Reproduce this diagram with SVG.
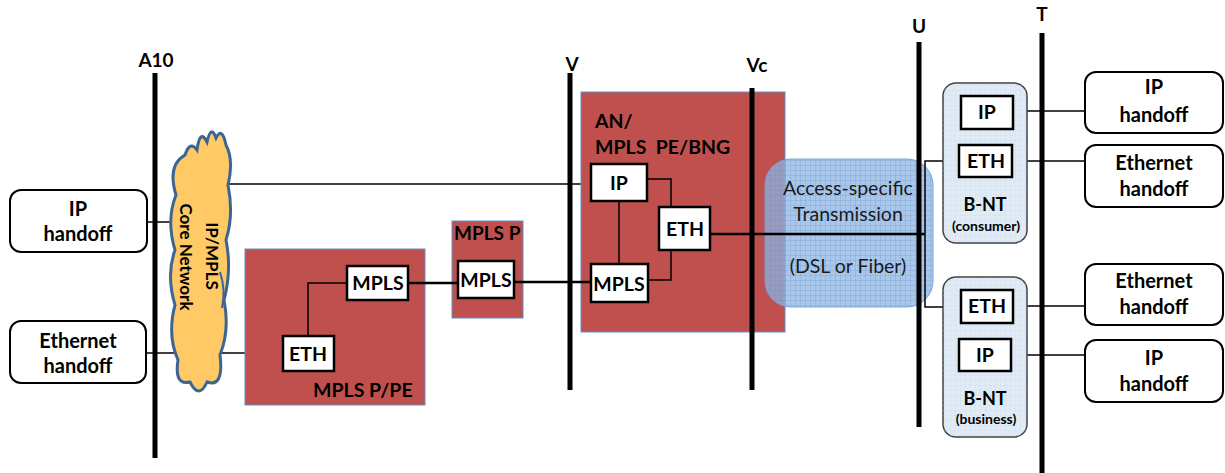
<svg xmlns="http://www.w3.org/2000/svg" width="1225" height="473" viewBox="0 0 1225 473">
<defs>
<pattern id="grid" width="5" height="5" patternUnits="userSpaceOnUse">
<path d="M5 0H0V5" fill="none" stroke="#5b8fd4" stroke-width="0.6"/>
</pattern>
<pattern id="grid2" width="5" height="5" patternUnits="userSpaceOnUse">
<path d="M5 0H0V5" fill="none" stroke="#c5d8ec" stroke-width="0.5"/>
</pattern>
<style>
text{font-family:Lato,"Liberation Sans",sans-serif;font-weight:bold;fill:#000}
.ho{fill:#fff;stroke:#000;stroke-width:2}
.ht{font-size:20px;text-anchor:middle}
.box{fill:#fff;stroke:#000;stroke-width:2.5}
.bt{font-size:19.5px;text-anchor:middle}
.red{fill:#c0504d;stroke:#5b8fd4;stroke-width:1}
.ref{stroke:#000;stroke-width:5}
.rl{font-size:19px;text-anchor:middle}
.thin{fill:none;stroke:#000;stroke-width:1.5}
.thick{fill:none;stroke:#000;stroke-width:2.5}
.bnt{fill:#e1ebf5;stroke:#404040;stroke-width:1.5}
.acc{font-size:19.5px;font-weight:normal;fill:#1a1a1a;text-anchor:middle}
</style>
</defs>

<g id="connectors">
<path class="thin" d="M147 222H175"/>
<path class="thin" d="M146 353H285"/>
<path class="thin" d="M228 184H591"/>
</g>

<g id="ref-A10"><line class="ref" x1="155" y1="73" x2="155" y2="458"/><text class="rl" x="156" y="67">A10</text></g>

<g id="cloud">
<path d="M185 155Q190 140 197 150Q200 128 207 142Q211 124 216 138Q222 126 226 145Q234 160 228 185Q234 215 226 240Q232 270 224 300Q230 330 220 355Q224 388 207 382Q199 400 190 382Q174 386 178 360Q167 335 175 305Q166 275 175 250Q166 220 176 195Q167 165 185 155Z" fill="#ffc966" stroke="#3b6594" stroke-width="3"/>
<path d="M220 272Q226 290 222 308" fill="none" stroke="#3b6594" stroke-width="2"/>
<text font-size="17" text-anchor="middle" transform="translate(206,256) rotate(90)">IP/MPLS</text>
<text font-size="17" text-anchor="middle" transform="translate(180,257) rotate(90)">Core Network</text>
</g>

<g id="ip-handoff-left"><rect class="ho" x="10" y="190" width="137" height="62" rx="11"/><text class="ht" x="78" y="216">IP</text><text class="ht" x="78" y="241">handoff</text></g>
<g id="eth-handoff-left"><rect class="ho" x="10" y="321" width="136" height="62" rx="11"/><text class="ht" x="78" y="348">Ethernet</text><text class="ht" x="78" y="373">handoff</text></g>

<g id="mpls-ppe">
<rect class="red" x="245" y="249" width="180" height="156"/>
<text font-size="19.5" x="313" y="397">MPLS P/PE</text>
</g>
<g id="mpls-p">
<rect class="red" x="452" y="221" width="71" height="97"/>
<text font-size="19" x="454" y="240">MPLS P</text>
</g>
<g id="an-box">
<rect class="red" x="581" y="92" width="204" height="240"/>
<text font-size="19.5" x="595" y="128">AN/</text>
<text font-size="19.5" x="595" y="154" xml:space="preserve">MPLS  PE/BNG</text>
</g>

<g id="access">
<rect x="765" y="159" width="168" height="148" rx="26" fill="#8db4e3" fill-opacity="0.75" stroke="#7aa4da" stroke-width="1"/>
<rect x="765" y="159" width="168" height="148" rx="26" fill="url(#grid)" opacity="0.8"/>
<text class="acc" x="848" y="195">Access-specific</text>
<text class="acc" x="848" y="221">Transmission</text>
<text class="acc" x="848" y="273">(DSL or Fiber)</text>
</g>

<g id="ref-V"><line class="ref" x1="570" y1="73" x2="570" y2="390"/><text class="rl" x="572" y="71">V</text></g>
<g id="ref-Vc"><line class="ref" x1="752" y1="88" x2="752" y2="390"/><text class="rl" x="757" y="72">Vc</text></g>
<g id="ref-U"><line class="ref" x1="919" y1="42" x2="919" y2="427"/><text class="rl" x="919" y="33">U</text></g>
<g id="ref-T"><line class="ref" x1="1042" y1="33" x2="1042" y2="473"/><text class="rl" x="1042" y="21">T</text></g>

<g id="connectors-inner">
<path class="thin" d="M308 336V283H347"/>
<path class="thick" d="M408 283H458"/>
<path class="thick" d="M514 282H591"/>
<path class="thin" d="M619 201V264"/>
<path class="thin" d="M647 179H671V207"/>
<path class="thin" d="M671 250V280H648"/>
<path class="thick" d="M710 234H925"/>
<path class="thin" d="M959 161H925V307H961"/>
<path class="thin" d="M986 129V145"/>
<path class="thin" d="M986 323V339"/>
<path class="thin" d="M1013 111H1087"/>
<path class="thin" d="M1012 161H1087"/>
<path class="thin" d="M1013 306H1087"/>
<path class="thin" d="M1011 355H1087"/>
</g>

<g id="eth-ppe"><rect class="box" x="283" y="336" width="51" height="35"/><text class="bt" x="308" y="361">ETH</text></g>
<g id="mpls-ppe-box"><rect class="box" x="347" y="266" width="61" height="34"/><text class="bt" x="378" y="290">MPLS</text></g>
<g id="mpls-p-box"><rect class="box" x="458" y="261" width="56" height="37"/><text class="bt" x="486" y="287">MPLS</text></g>
<g id="ip-an"><rect class="box" x="591" y="164" width="56" height="37"/><text class="bt" x="619" y="190">IP</text></g>
<g id="eth-an"><rect class="box" x="659" y="207" width="51" height="43"/><text class="bt" x="685" y="236">ETH</text></g>
<g id="mpls-an"><rect class="box" x="591" y="264" width="57" height="38"/><text class="bt" x="619" y="291">MPLS</text></g>

<g id="bnt-consumer">
<rect class="bnt" x="943" y="83" width="84" height="160" rx="13"/>
<rect x="943" y="83" width="84" height="160" rx="13" fill="url(#grid2)"/>
<text font-size="18" text-anchor="middle" x="985" y="211">B-NT</text>
<text font-size="14" text-anchor="middle" x="986" y="231">(consumer)</text>
</g>
<g id="ip-c"><rect class="box" x="961" y="96" width="52" height="33"/><text class="bt" x="987" y="119">IP</text></g>
<g id="eth-c"><rect class="box" x="959" y="145" width="53" height="32"/><text class="bt" x="986" y="168">ETH</text></g>

<g id="bnt-business">
<rect class="bnt" x="943" y="277" width="84" height="160" rx="13"/>
<rect x="943" y="277" width="84" height="160" rx="13" fill="url(#grid2)"/>
<text font-size="18" text-anchor="middle" x="985" y="405">B-NT</text>
<text font-size="14" text-anchor="middle" x="986" y="424">(business)</text>
</g>
<g id="eth-b"><rect class="box" x="961" y="290" width="52" height="33"/><text class="bt" x="987" y="313">ETH</text></g>
<g id="ip-b"><rect class="box" x="959" y="339" width="52" height="32"/><text class="bt" x="985" y="362">IP</text></g>

<g id="ip-handoff-c"><rect class="ho" x="1085" y="72" width="138" height="61" rx="11"/><text class="ht" x="1154" y="94">IP</text><text class="ht" x="1154" y="122">handoff</text></g>
<g id="eth-handoff-c"><rect class="ho" x="1085" y="145" width="138" height="62" rx="11"/><text class="ht" x="1154" y="170">Ethernet</text><text class="ht" x="1154" y="196">handoff</text></g>
<g id="eth-handoff-b"><rect class="ho" x="1085" y="264" width="138" height="61" rx="11"/><text class="ht" x="1154" y="288">Ethernet</text><text class="ht" x="1154" y="314">handoff</text></g>
<g id="ip-handoff-b"><rect class="ho" x="1085" y="340" width="138" height="62" rx="11"/><text class="ht" x="1154" y="365">IP</text><text class="ht" x="1154" y="391">handoff</text></g>
</svg>
